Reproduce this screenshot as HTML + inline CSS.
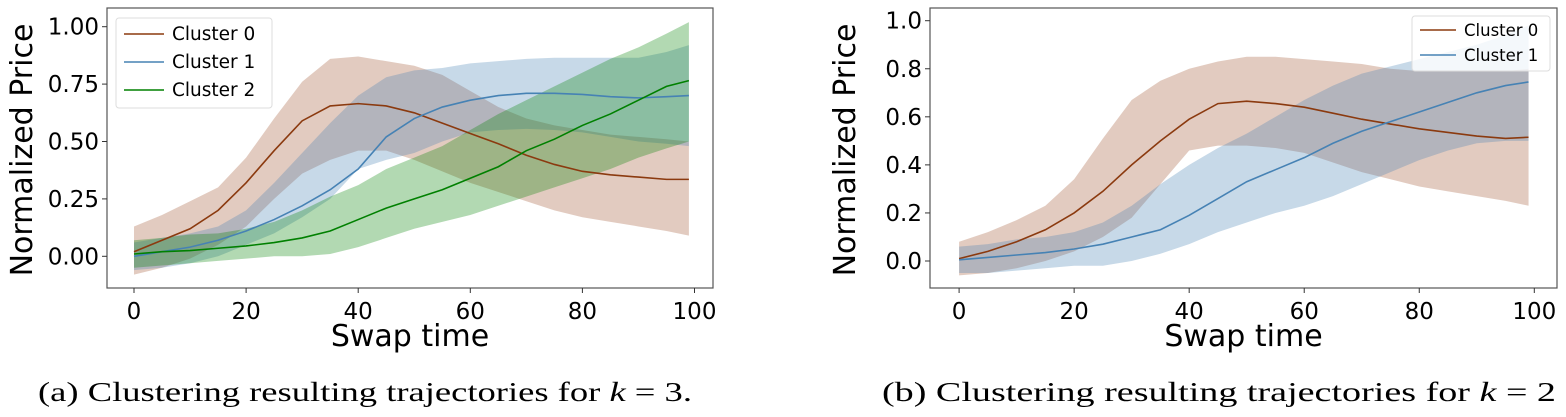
<!DOCTYPE html>
<html><head><meta charset="utf-8"><style>
html,body{margin:0;padding:0;background:#fff}
svg{display:block}
text{font-family:"DejaVu Sans","Liberation Sans",sans-serif}
.cap{font-family:"Liberation Serif",serif;font-size:27px}
</style></head><body>
<svg id="chart" width="1566" height="417" viewBox="0 0 1566 417" xmlns="http://www.w3.org/2000/svg">
<text class="cap" x="38" y="401" textLength="654" lengthAdjust="spacingAndGlyphs">(a) Clustering resulting trajectories for <tspan font-style="italic">k</tspan> = 3.</text>
<text class="cap" x="882" y="401" textLength="674" lengthAdjust="spacingAndGlyphs">(b) Clustering resulting trajectories for <tspan font-style="italic">k</tspan> = 2</text>
</svg>
<script>
const xs = [0,5,10,15,20,25,30,35,40,45,50,55,60,65,70,75,80,85,90,95,99];
const aC0Mean=[0.02,0.07,0.12,0.2,0.32,0.46,0.59,0.655,0.665,0.655,0.625,0.58,0.535,0.49,0.44,0.4,0.37,0.355,0.345,0.335,0.335];
const aC0Up=[0.13,0.18,0.24,0.3,0.43,0.6,0.76,0.86,0.87,0.85,0.83,0.79,0.72,0.65,0.6,0.57,0.55,0.53,0.52,0.51,0.5];
const aC0Lo=[-0.08,-0.05,-0.01,0.05,0.13,0.25,0.36,0.42,0.46,0.46,0.42,0.37,0.32,0.28,0.24,0.2,0.17,0.15,0.13,0.11,0.09];
const aC1Mean=[0.0,0.02,0.04,0.07,0.11,0.16,0.22,0.29,0.38,0.52,0.6,0.65,0.68,0.7,0.71,0.71,0.705,0.695,0.69,0.695,0.7];
const aC1Up=[0.06,0.08,0.1,0.13,0.2,0.32,0.45,0.58,0.7,0.78,0.81,0.82,0.84,0.85,0.86,0.865,0.865,0.865,0.865,0.89,0.92];
const aC1Lo=[-0.06,-0.05,-0.03,0.0,0.05,0.1,0.17,0.25,0.38,0.42,0.45,0.5,0.54,0.55,0.555,0.55,0.54,0.52,0.5,0.49,0.48];
const aC2Mean=[0.01,0.02,0.025,0.035,0.045,0.06,0.08,0.11,0.16,0.21,0.25,0.29,0.34,0.39,0.46,0.51,0.57,0.62,0.68,0.74,0.765];
const aC2Up=[0.07,0.08,0.095,0.1,0.12,0.15,0.2,0.26,0.31,0.38,0.43,0.48,0.55,0.62,0.68,0.74,0.8,0.86,0.91,0.97,1.02];
const aC2Lo=[-0.05,-0.04,-0.03,-0.02,-0.01,0.0,0.0,0.01,0.04,0.08,0.12,0.15,0.18,0.22,0.26,0.3,0.34,0.38,0.43,0.47,0.5];
const bC0Mean=[0.01,0.04,0.08,0.13,0.2,0.29,0.4,0.5,0.59,0.655,0.665,0.655,0.64,0.615,0.59,0.57,0.55,0.535,0.52,0.51,0.515];
const bC0Up=[0.08,0.12,0.17,0.23,0.34,0.51,0.67,0.75,0.8,0.83,0.85,0.85,0.84,0.83,0.82,0.8,0.79,0.79,0.79,0.79,0.8];
const bC0Lo=[-0.06,-0.05,-0.03,0.0,0.04,0.1,0.18,0.32,0.46,0.48,0.48,0.47,0.45,0.41,0.37,0.34,0.31,0.29,0.27,0.25,0.23];
const bC1Mean=[0.005,0.015,0.025,0.035,0.05,0.07,0.1,0.13,0.19,0.26,0.33,0.38,0.43,0.49,0.54,0.58,0.62,0.66,0.7,0.73,0.745];
const bC1Up=[0.06,0.07,0.09,0.1,0.12,0.16,0.23,0.32,0.4,0.47,0.53,0.6,0.67,0.73,0.78,0.81,0.84,0.87,0.9,0.94,0.98];
const bC1Lo=[-0.05,-0.05,-0.04,-0.03,-0.02,-0.02,0.0,0.03,0.07,0.12,0.16,0.2,0.23,0.27,0.32,0.37,0.42,0.46,0.49,0.5,0.5];
const xTicks=[0,20,40,60,80,100];
const aYTicks=[0,0.25,0.5,0.75,1.0];
const aYLabels=["0.00","0.25","0.50","0.75","1.00"];
const bYTicks=[0,0.2,0.4,0.6,0.8,1.0];
const bYLabels=["0.0","0.2","0.4","0.6","0.8","1.0"];

const NS="http://www.w3.org/2000/svg";
const svg=document.getElementById('chart');
function mk(tag,attrs,parent){const e=document.createElementNS(NS,tag);for(const k in attrs)e.setAttribute(k,attrs[k]);(parent||svg).appendChild(e);return e;}
const COL={c0:'#a0522d',c0line:'#8b3a0f',c1:'#4682b4',c2:'#008000'};

function panel(id,box,x0,x100,y0,y1,yT,yL,series,legend){
  const sx=v=>x0+(x100-x0)*v/100;
  const sy=v=>y0-(y0-y1)*v;
  const g=mk('g',{});
  
  
  series.forEach(s=>{
    let d='M'+xs.map((x,i)=>sx(x)+','+sy(s.up[i])).join('L')+'L'+xs.slice().reverse().map((x,j)=>{const i=xs.length-1-j;return sx(x)+','+sy(s.lo[i]);}).join('L')+'Z';
    const p=mk('path',{d:d,fill:s.fill,'fill-opacity':0.3,stroke:'none'},g);
    
    
  });
  series.forEach(s=>{
    const d='M'+xs.map((x,i)=>sx(x)+','+sy(s.mean[i])).join('L');
    const p=mk('path',{d:d,fill:'none',stroke:s.line,'stroke-width':1.6},g);
    
    
  });
  const fr=mk('rect',{x:box[0],y:box[1],width:box[2]-box[0],height:box[3]-box[1],fill:'none',stroke:'#555','stroke-width':1.2},g);
  
  
  xTicks.forEach(t=>{
    mk('line',{x1:sx(t),x2:sx(t),y1:box[3],y2:box[3]+5,stroke:'#333'},g);
    const tx=mk('text',{x:sx(t),y:box[3]+31,'text-anchor':'middle','font-size':23},g);
    tx.textContent=t;
    
    
  });
  yT.forEach((t,i)=>{
    mk('line',{x1:box[0]-5,x2:box[0],y1:sy(t),y2:sy(t),stroke:'#333'},g);
    const tx=mk('text',{x:box[0]-8,y:sy(t)+8,'text-anchor':'end','font-size':23},g);
    tx.textContent=yL[i];
    
    
  });
  const xl=mk('text',{x:(box[0]+box[2])/2,y:box[3]+58,'text-anchor':'middle','font-size':30},g);
  xl.textContent='Swap time';
  
  
  const cy=(box[1]+box[3])/2+2;
  const yl=mk('text',{x:0,y:0,'text-anchor':'middle','font-size':30,transform:'translate('+(box[0]-75)+','+cy+') rotate(-90)'},g);
  yl.textContent='Normalized Price';
  
  
  const lg=mk('g',{},g);
  
  
  mk('rect',{x:legend.x,y:legend.y,width:legend.w,height:legend.h,rx:3,fill:'#fff','fill-opacity':0.8,stroke:'#ddd'},lg);
  series.forEach((s,i)=>{
    const yy=legend.y+legend.pad+i*legend.step;
    mk('line',{x1:legend.x+8,x2:legend.x+8+legend.ll,y1:yy,y2:yy,stroke:s.line,'stroke-width':1.6},lg);
    const t=mk('text',{x:legend.x+16+legend.ll,y:yy+6,'font-size':legend.fs},lg);
    t.textContent=s.label;
    
    
  });
}
panel('panel-a',[107,8,713,288],134,694.5,256.3,26.7,aYTicks,aYLabels,[
 {name:'cluster-0',label:'Cluster 0',mean:aC0Mean,up:aC0Up,lo:aC0Lo,fill:COL.c0,line:COL.c0line},
 {name:'cluster-1',label:'Cluster 1',mean:aC1Mean,up:aC1Up,lo:aC1Lo,fill:COL.c1,line:COL.c1},
 {name:'cluster-2',label:'Cluster 2',mean:aC2Mean,up:aC2Up,lo:aC2Lo,fill:COL.c2,line:COL.c2}],
 {x:116,y:18,w:156,h:90,pad:16,step:28,ll:40,fs:18.5});
panel('panel-b',[930,8,1557,288],959.1,1534.3,261,20.7,bYTicks,bYLabels,[
 {name:'cluster-0',label:'Cluster 0',mean:bC0Mean,up:bC0Up,lo:bC0Lo,fill:COL.c0,line:COL.c0line},
 {name:'cluster-1',label:'Cluster 1',mean:bC1Mean,up:bC1Up,lo:bC1Lo,fill:COL.c1,line:COL.c1}],
 {x:1412,y:16,w:138,h:55,pad:14,step:25,ll:36,fs:16.5});
</script>
</body></html>
